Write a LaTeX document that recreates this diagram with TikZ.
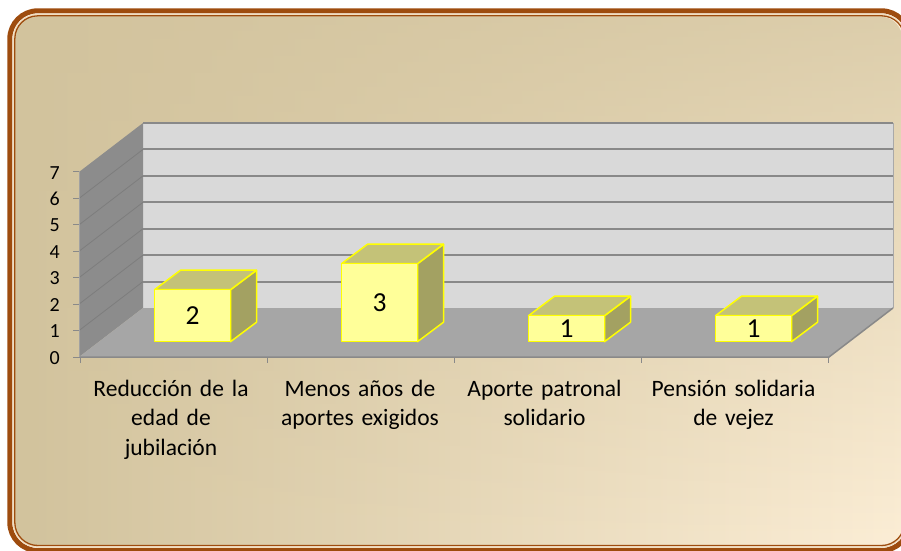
\documentclass[tikz,border=0pt]{standalone}
\usepackage{fontspec}
\setmainfont{Carlito}
\usetikzlibrary{fadings}
\definecolor{frameb}{RGB}{158,76,14}
\definecolor{framel}{RGB}{242,222,190}
\definecolor{bgtan}{RGB}{210,195,157}
\definecolor{bgcream}{RGB}{252,238,214}
\definecolor{wallback}{RGB}{217,217,217}
\definecolor{wallleft}{RGB}{140,140,140}
\definecolor{wallgrid}{RGB}{125,125,125}
\definecolor{floorc}{RGB}{166,166,166}
\definecolor{gridc}{RGB}{137,137,137}
\definecolor{barfront}{RGB}{255,255,153}
\definecolor{bartop}{RGB}{196,194,120}
\definecolor{barside}{RGB}{163,161,98}
\definecolor{baredge}{RGB}{255,255,0}
\tikzset{
  barface/.style={draw=baredge, line width=1.5pt, line join=round},
  gridline/.style={draw=gridc, line width=2pt},
  tickline/.style={draw=gridc, line width=1pt},
  catlabel/.style={text width=200pt, align=center, anchor=base, inner sep=0pt,
    font=\fontsize{23.5}{29.3}\selectfont},
  ylabel/.style={anchor=east, inner sep=0pt, font=\fontsize{20}{24}\selectfont},
  vallabel/.style={inner sep=0pt, font=\fontsize{27.5}{32}\selectfont}
}
\begin{document}
\begin{tikzpicture}[x=1pt,y=1pt]
\useasboundingbox (0,0) rectangle (901,550);
% background
\path[left color=bgtan, right color=bgcream, rounded corners=23pt]
  (14.8,4.5) rectangle (904.5,534.2);
\fill[bgtan, path fading=south, fill opacity=0.75, rounded corners=23pt]
  (14.8,4.5) rectangle (904.5,534.2);
% frame
\draw[frameb, line width=5pt, rounded corners=28pt] (9.8,-0.5) rectangle (909.5,539.2);
\draw[framel, line width=1.5pt, rounded corners=25pt] (13.3,3) rectangle (906,535.7);
\draw[frameb, line width=1.3pt, rounded corners=23pt] (14.8,4.5) rectangle (904.5,534.2);
% walls
\def\u{26.43}
\fill[wallback] (143,242) rectangle (893,427);
\fill[wallleft] (79,193) -- (79,378) -- (143,427) -- (143,242) -- cycle;
\foreach \k in {1,...,6} {
  \draw[wallgrid, line width=0.8pt] (79,193+\k*\u) -- (143,242+\k*\u);
}
\foreach \k in {1,...,7} {
  \draw[gridline] (143,242+\k*\u) -- (893,242+\k*\u);
}
\draw[gridc!60!wallback, line width=1pt] (893,242) -- (893,427);
% floor
\fill[floorc] (79,193) -- (143,242) -- (893,242) -- (829,193) -- cycle;
\draw[gridc, line width=1.5pt] (79,193) -- (829,193) -- (893,242);
% axis ticks
\foreach \k in {0,...,7} {
  \draw[tickline] (73,193+\k*\u) -- (79,193+\k*\u);
  \node[ylabel] (y\k) at (60,192.3+\k*\u) {\k};
}
\draw[gridc!80!white, line width=1pt] (79,193) -- (79,378);
\foreach \x in {80.7,267.7,454,641,828} {
  \draw[tickline] (\x,193) -- (\x,187);
}
% bars
\foreach \i/\v in {0/2,1/3,2/1,3/1} {
  \pgfmathsetmacro{\xa}{154.5+187*\i}
  \pgfmathsetmacro{\xb}{\xa+76}
  \pgfmathsetmacro{\yt}{208.3+26*\v}
  \fill[barside, barface] (\xb,208.3) -- (\xb+26,227.8) -- (\xb+26,\yt+19.5) -- (\xb,\yt) -- cycle;
  \fill[bartop, barface] (\xa,\yt) -- (\xa+26,\yt+19.5) -- (\xb+26,\yt+19.5) -- (\xb,\yt) -- cycle;
  \fill[barfront, barface] (\xa,208.3) rectangle (\xb,\yt);
  \node[vallabel] (v\i) at ({(\xa+\xb)/2},{(208.3+\yt)/2}) {\v};
}
% category labels
\node[catlabel] (c1) at (171,153.5) {Reducción de la\\edad de\\jubilación};
\node[catlabel] (c2) at (360,153.5) {Menos años de\\aportes exigidos};
\node[catlabel] (c3) at (544.5,153.5) {Aporte patronal\\solidario};
\node[catlabel] (c4) at (733.5,153.5) {Pensión solidaria\\de vejez};
\end{tikzpicture}
\end{document}
